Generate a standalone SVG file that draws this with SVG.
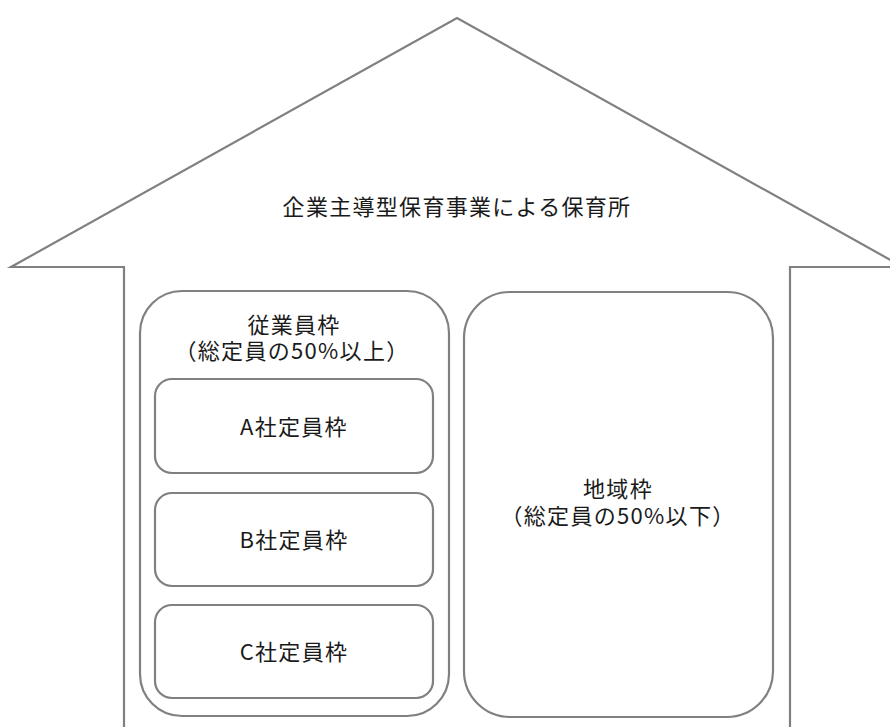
<svg xmlns="http://www.w3.org/2000/svg" width="890" height="727" viewBox="0 0 890 727">
<style>
.ln{fill:none;stroke:#808080;stroke-width:2.2}
.box{fill:#fff;stroke:#808080;stroke-width:2.2}
text{font-family:"Noto Sans CJK JP","Noto Sans",sans-serif;font-size:22px;letter-spacing:1.3px;fill:#1a1a1a;text-anchor:middle}
</style>
<rect width="890" height="727" fill="#fff"/>
<g id="house">
<path class="ln" d="M124,727 V267 H11 L457,18 L903,267 H790 V727"/>
<text x="457" y="215">企業主導型保育事業による保育所</text>
</g>
<g id="employee">
<rect class="box" x="140" y="291" width="309" height="425" rx="42" ry="42"/>
<text x="294" y="333"><tspan x="294">従業員枠</tspan><tspan x="292" dy="26">（総定員の50%以上）</tspan></text>
</g>
<g id="companyA">
<rect class="box" x="155" y="379" width="278" height="94" rx="17" ry="17"/>
<text x="294" y="435">A社定員枠</text>
</g>
<g id="companyB">
<rect class="box" x="155" y="493" width="278" height="93" rx="17" ry="17"/>
<text x="294" y="548">B社定員枠</text>
</g>
<g id="companyC">
<rect class="box" x="155" y="605" width="278" height="93" rx="17" ry="17"/>
<text x="294" y="660">C社定員枠</text>
</g>
<g id="regional">
<rect class="box" x="464" y="292" width="309" height="425" rx="46" ry="46"/>
<text x="618" y="497"><tspan x="618">地域枠</tspan><tspan x="618" dy="27">（総定員の50%以下）</tspan></text>
</g>
<g id="connectors"/>
</svg>
